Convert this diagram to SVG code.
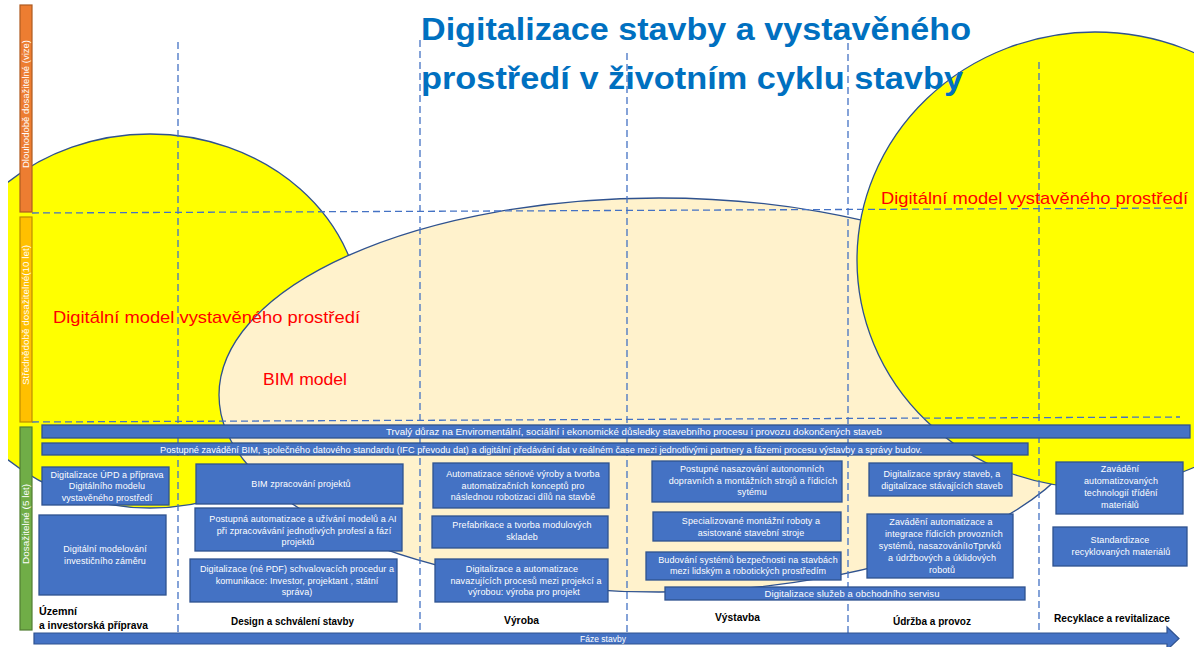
<svg xmlns="http://www.w3.org/2000/svg" width="1194" height="647" viewBox="0 0 1194 647">
<defs>
<clipPath id="clipL"><rect x="8" y="0" width="1186" height="647"/></clipPath>
<style>
.box{fill:#4472C4;stroke:#2F528F;stroke-width:1.3}
.bar{fill:#4472C4;stroke:#2F528F;stroke-width:1.3}
.bt{font-family:"Liberation Sans",Arial,sans-serif;font-size:9px;fill:#fff;text-anchor:middle;letter-spacing:0.1px}
.bart{font-family:"Liberation Sans",Arial,sans-serif;font-size:8.5px;fill:#fff}
.guide{stroke:#4472C4;stroke-width:1.3;stroke-dasharray:7 4;fill:none}
.lbl{font-family:"Liberation Sans",Arial,sans-serif;font-weight:bold;font-size:10.5px;fill:#000}
.red{font-family:"Liberation Sans",Arial,sans-serif;font-size:17px;fill:#FF0000}
.vt{font-family:"Liberation Sans",Arial,sans-serif;font-size:8.8px;fill:#fff;text-anchor:middle}
.ell{stroke:#2F528F;stroke-width:1.3}
</style>
</defs>
<rect x="0" y="0" width="1194" height="647" fill="#fff"/>

<g id="model-left">
<ellipse class="ell" cx="150" cy="321" rx="212" ry="187" fill="#FFFF00" clip-path="url(#clipL)"/>
</g>
<g id="bim-model">
<ellipse class="ell" cx="659" cy="395" rx="440" ry="197" fill="#FFF2CC"/>
</g>
<g id="model-right">
<ellipse class="ell" cx="1095" cy="260" rx="238" ry="228" fill="#FFFF00"/>
</g>

<g id="connectors">
<line class="guide" x1="178" y1="42" x2="178" y2="633"/>
<line class="guide" x1="420" y1="40" x2="420" y2="633"/>
<line class="guide" x1="627" y1="53" x2="627" y2="633"/>
<line class="guide" x1="848" y1="43" x2="848" y2="633"/>
<line class="guide" x1="1039" y1="62" x2="1039" y2="640"/>
<line class="guide" x1="32" y1="213" x2="1185" y2="208"/>
<line class="guide" x1="32" y1="422" x2="1180" y2="417"/>
</g>

<g id="horizon-long">
<rect x="20" y="5" width="12" height="207" fill="#ED7D31" stroke="#AE5A21" stroke-width="1.2"/>
<text class="vt" transform="translate(29.2,104) rotate(-90)" textLength="128" lengthAdjust="spacingAndGlyphs">Dlouhodobě dosažitelné (vize)</text>
</g>
<g id="horizon-mid">
<rect x="20" y="217" width="12" height="205" fill="#FFC000" stroke="#BC8C00" stroke-width="1.2"/>
<text class="vt" transform="translate(29.2,315) rotate(-90)" textLength="140" lengthAdjust="spacingAndGlyphs">Střednědobě dosažitelné(10 let)</text>
</g>
<g id="horizon-short">
<rect x="20" y="427" width="12" height="203" fill="#70AD47" stroke="#507E32" stroke-width="1.2"/>
<text class="vt" transform="translate(29.2,524) rotate(-90)" textLength="80" lengthAdjust="spacingAndGlyphs">Dosažitelné (5 let)</text>
</g>

<g id="bar-trvaly">
<rect class="bar" x="42" y="425" width="1148" height="13"/>
<text class="bart" x="386" y="435" textLength="496" lengthAdjust="spacingAndGlyphs">Trvalý důraz na Enviromentální, sociální i ekonomické důsledky stavebního procesu i provozu dokončených staveb</text>
</g>
<g id="bar-bim">
<rect class="bar" x="42" y="443" width="986" height="12"/>
<text class="bart" x="160" y="452.5" textLength="762" lengthAdjust="spacingAndGlyphs">Postupné zavádění BIM, společného datového standardu (IFC převodu dat) a digitální předávání dat v reálném čase mezi jednotlivými partnery a fázemi procesu výstavby a správy budov.</text>
</g>

<g id="b-upd">
<rect class="box" x="42" y="467" width="127" height="38"/>
<text class="bt" x="107" y="477.5">Digitalizace ÚPD a příprava</text>
<text class="bt" x="107" y="489">Digitálního modelu</text>
<text class="bt" x="107" y="500.5">vystavěného prostředí</text>
</g>
<g id="b-invest">
<rect class="box" x="39" y="515" width="127" height="80"/>
<text class="bt" x="105" y="552">Digitální modelování</text>
<text class="bt" x="105" y="564">investičního záměru</text>
</g>
<g id="b-bim">
<rect class="box" x="196" y="464" width="207" height="40"/>
<text class="bt" x="301" y="487">BIM zpracování projektů</text>
</g>
<g id="b-auto">
<rect class="box" x="195" y="508" width="207" height="43"/>
<text class="bt" x="303" y="522">Postupná automatizace a užívání modelů a AI</text>
<text class="bt" x="304" y="533.5">při zpracovávání jednotlivých profesí a fází</text>
<text class="bt" x="298" y="545">projektů</text>
</g>
<g id="b-schval">
<rect class="box" x="190" y="559" width="207" height="43"/>
<text class="bt" x="297" y="572">Digitalizace (né PDF) schvalovacích procedur a</text>
<text class="bt" x="297" y="583.5">komunikace: Investor, projektant , státní</text>
<text class="bt" x="297" y="595">správa)</text>
</g>
<g id="b-serial">
<rect class="box" x="433" y="463" width="176" height="45"/>
<text class="bt" x="523" y="477">Automatizace sériové výroby a tvorba</text>
<text class="bt" x="523" y="488.5">automatizačních konceptů pro</text>
<text class="bt" x="523" y="500">následnou robotizaci dílů na stavbě</text>
</g>
<g id="b-prefab">
<rect class="box" x="432" y="516" width="176" height="32"/>
<text class="bt" x="522" y="528">Prefabrikace a tvorba modulových</text>
<text class="bt" x="522" y="540">skladeb</text>
</g>
<g id="b-navaz">
<rect class="box" x="435" y="559" width="173" height="43"/>
<text class="bt" x="522" y="572">Digitalizace a automatizace</text>
<text class="bt" x="526" y="583.5">navazujících procesů mezi projekcí a</text>
<text class="bt" x="524" y="595">výrobou: výroba pro projekt</text>
</g>
<g id="b-autonom">
<rect class="box" x="652" y="461" width="190" height="41"/>
<text class="bt" x="752" y="472">Postupné nasazování autonomních</text>
<text class="bt" x="753" y="483.5">dopravních a montážních strojů a řídicích</text>
<text class="bt" x="752" y="495">sytému</text>
</g>
<g id="b-special">
<rect class="box" x="653" y="512" width="188" height="29"/>
<text class="bt" x="751" y="524">Specializované montážní roboty a</text>
<text class="bt" x="751" y="535.5">asistované stavební stroje</text>
</g>
<g id="b-bezpec">
<rect class="box" x="646" y="552" width="195" height="28"/>
<text class="bt" x="748" y="562.5">Budování systémů bezpečnosti na stavbách</text>
<text class="bt" x="748" y="574">mezi lidským a robotických prostředím</text>
</g>
<g id="bar-sluzby">
<rect class="bar" x="665" y="587" width="360" height="13"/>
<text class="bt" x="852" y="597" textLength="175" lengthAdjust="spacingAndGlyphs" letter-spacing="0">Digitalizace služeb a obchodního servisu</text>
</g>
<g id="b-sprava">
<rect class="box" x="869" y="463" width="143" height="33"/>
<text class="bt" x="942" y="477">Digitalizace správy staveb, a</text>
<text class="bt" x="942" y="488.5">digitalizace stávajících staveb</text>
</g>
<g id="b-provoz">
<rect class="box" x="867" y="514" width="146" height="64"/>
<text class="bt" x="941" y="525">Zavádění automatizace a</text>
<text class="bt" x="944" y="537">integrace řídicích provozních</text>
<text class="bt" x="940" y="549">systémů, nasazováníIoTprvků</text>
<text class="bt" x="942" y="561">a údržbových a úklidových</text>
<text class="bt" x="942" y="572.5">robotů</text>
</g>
<g id="b-trideni">
<rect class="box" x="1056" y="462" width="127" height="52"/>
<text class="bt" x="1120" y="472">Zavádění</text>
<text class="bt" x="1121" y="484">automatizovaných</text>
<text class="bt" x="1121" y="496">technologií třídění</text>
<text class="bt" x="1120" y="507.5">materiálů</text>
</g>
<g id="b-standard">
<rect class="box" x="1053" y="527" width="134" height="39"/>
<text class="bt" x="1120" y="543">Standardizace</text>
<text class="bt" x="1121" y="555">recyklovaných materiálů</text>
</g>

<g id="phase-labels">
<text class="lbl" x="39" y="615" textLength="38" lengthAdjust="spacingAndGlyphs">Územní</text>
<text class="lbl" x="39" y="629" textLength="109" lengthAdjust="spacingAndGlyphs">a investorská příprava</text>
<text class="lbl" x="231" y="625" textLength="123" lengthAdjust="spacingAndGlyphs">Design a schválení stavby</text>
<text class="lbl" x="504" y="624" textLength="35" lengthAdjust="spacingAndGlyphs">Výroba</text>
<text class="lbl" x="715" y="621" textLength="45" lengthAdjust="spacingAndGlyphs">Výstavba</text>
<text class="lbl" x="893" y="625" textLength="78" lengthAdjust="spacingAndGlyphs">Údržba a provoz</text>
<text class="lbl" x="1054" y="622" textLength="116" lengthAdjust="spacingAndGlyphs">Recyklace a revitalizace</text>
</g>

<g id="phase-arrow">
<polygon points="34,633 1167,633 1167,627 1179,638.5 1167,650 1167,644 34,644" fill="#4472C4" stroke="#2F528F" stroke-width="1.2"/>
<text class="bart" x="603" y="642" text-anchor="middle" font-size="8">Fáze stavby</text>
</g>

<g id="model-labels">
<text class="red" x="53" y="323" textLength="307" lengthAdjust="spacingAndGlyphs">Digitální model vystavěného prostředí</text>
<text class="red" x="263" y="385" textLength="84" lengthAdjust="spacingAndGlyphs">BIM model</text>
<text class="red" x="881" y="204" textLength="307" lengthAdjust="spacingAndGlyphs">Digitální model vystavěného prostředí</text>
</g>

<g id="title" font-family="'Liberation Sans',Arial,sans-serif" font-weight="bold" font-size="31" fill="#0070C0">
<text x="421" y="40" textLength="550" lengthAdjust="spacingAndGlyphs">Digitalizace stavby a vystavěného</text>
<text x="421" y="89" textLength="542" lengthAdjust="spacingAndGlyphs">prostředí v životním cyklu stavby</text>
</g>
</svg>
